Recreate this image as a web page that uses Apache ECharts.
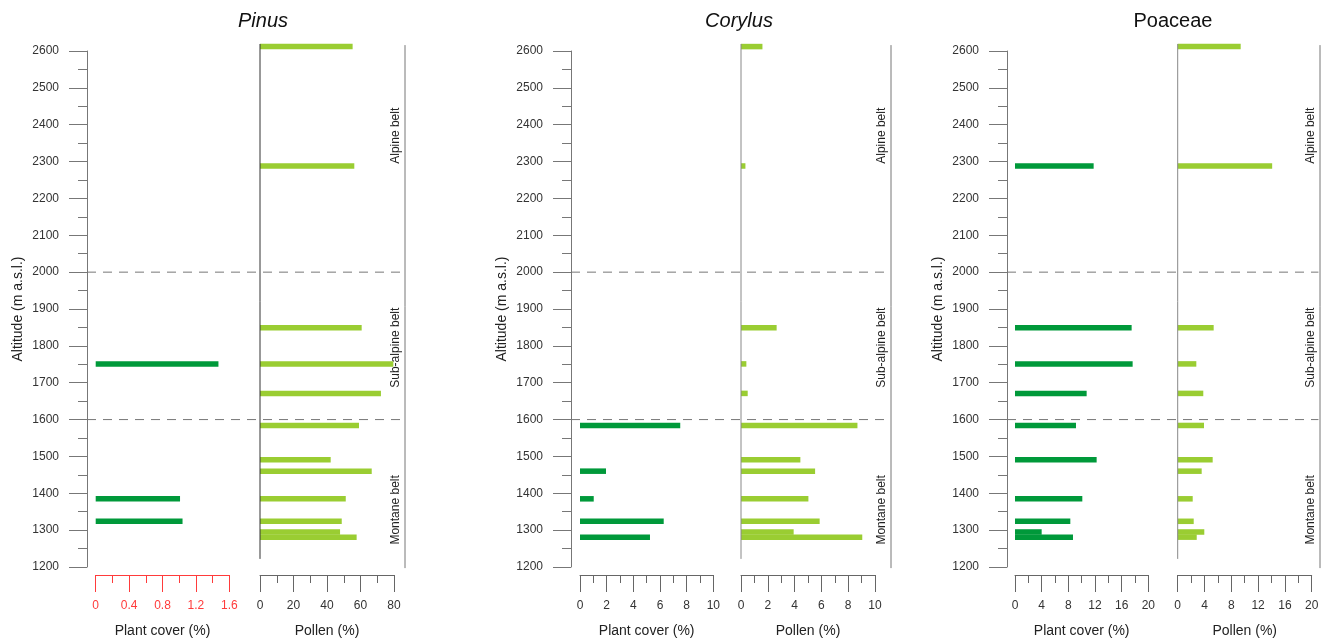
<!DOCTYPE html>
<html><head><meta charset="utf-8">
<script src="https://cdn.jsdelivr.net/npm/echarts@6/dist/echarts.min.js"></script>
<style>html,body{margin:0;padding:0;background:#fff}#c{width:1325px;height:644px}</style>
</head><body><div id="c"></div>
<script>
// ---- data ----
const altitudes = [2612, 2288, 1849, 1751, 1671, 1584, 1491, 1460, 1385, 1324, 1295, 1281];
const taxa = ['Pinus', 'Corylus', 'Poaceae'];
const pinusCover = [0, 0, 0, 1.47, 0, 0, 0, 0, 1.01, 1.04, 0, 0];
const pinusPollen = [55.3, 56.3, 60.7, 79.6, 72.2, 59.1, 42.2, 66.7, 51.2, 48.8, 47.8, 57.7];
const corylusCover = [0, 0, 0, 0, 0, 7.52, 0, 1.95, 1.03, 6.28, 0, 5.25];
const corylusPollen = [1.6, 0.33, 2.66, 0.4, 0.5, 8.69, 4.43, 5.53, 5.03, 5.87, 3.93, 9.05];
const poaceaeCover = [0, 11.8, 17.5, 17.65, 10.75, 9.15, 12.25, 0, 10.1, 8.3, 4.0, 8.7];
const poaceaePollen = [9.4, 14.1, 5.37, 2.78, 3.82, 3.93, 5.22, 3.58, 2.24, 2.39, 3.97, 2.84];
const coverMax = [1.6, 10, 20];
const coverInterval = [0.4, 2, 4];
const pollenMax = [80, 10, 20];
const pollenInterval = [20, 2, 4];
const altitudeMin = 1200, altitudeMax = 2600, altitudeInterval = 100;
const beltBoundaries = [2000, 1600];
const beltLabels = ['Alpine belt', 'Sub-alpine belt', 'Montane belt'];
const beltLabelAlt = [2370, 1795, 1355];
const zeroLineAlt = [2619, 1222];
const beltLineAlt = [2616, 1197];
const barThickness = 15; // metres

const coverData = [pinusCover, corylusCover, poaceaeCover];
const pollenData = [pinusPollen, corylusPollen, poaceaePollen];

// ---- layout / style ----
const FONT = '"Liberation Sans", Arial, sans-serif';
const TOP = 51, BOTTOM = 644 - 567;
const layout = [
  {axisX: 87, beltX: 405, cover: [95.7, 229.3], pollen: [260, 394], titleX: 263, italic: true, zeroColor: '#333', coverColor: '#ff3b3b', coverLabel: '#ff3b3b'},
  {axisX: 571, beltX: 891, cover: [580, 713.3], pollen: [741, 875], titleX: 739, italic: true, zeroColor: '#888', coverColor: '#666', coverLabel: '#333'},
  {axisX: 1007, beltX: 1320, cover: [1015, 1148.3], pollen: [1177.7, 1311.7], titleX: 1173, italic: false, zeroColor: '#888', coverColor: '#666', coverLabel: '#333'}
];
const DARK = '#00993a', LIGHT = '#9acd32';

const grid = [], xAxis = [], yAxis = [], series = [], graphic = [];

function barRender(color) {
  return function (params, api) {
    const v = api.value(0), a = api.value(1);
    const p0 = api.coord([0, a]);
    const p1 = api.coord([v, a]);
    const h = api.size([0, barThickness])[1];
    return {type: 'rect', shape: {x: p0[0], y: p0[1] - h / 2, width: p1[0] - p0[0], height: h}, style: {fill: color}};
  };
}

function bottomAxis(gi, max, interval, name, lineColor, labelColor) {
  return {
    gridIndex: gi, type: 'value', min: 0, max: max, interval: interval, position: 'bottom', offset: 8,
    axisLine: {show: true, lineStyle: {color: lineColor, width: 1}},
    axisTick: {show: true, length: 17, lineStyle: {color: lineColor}},
    minorTick: {show: true, splitNumber: 2, length: 8, lineStyle: {color: lineColor}},
    splitLine: {show: false}, minorSplitLine: {show: false},
    axisLabel: {margin: 25, fontSize: 12, color: labelColor, fontFamily: FONT, formatter: v => String(+v.toFixed(2))},
    name: name, nameLocation: 'middle', nameGap: 49,
    nameTextStyle: {fontSize: 14, color: '#222', fontFamily: FONT}
  };
}

layout.forEach((L, i) => {
  const gP = 3 * i, gC = 3 * i + 1, gPo = 3 * i + 2;
  grid.push({left: L.axisX, width: L.beltX - L.axisX, top: TOP, bottom: BOTTOM});
  grid.push({left: L.cover[0], width: L.cover[1] - L.cover[0], top: TOP, bottom: BOTTOM});
  grid.push({left: L.pollen[0], width: L.pollen[1] - L.pollen[0], top: TOP, bottom: BOTTOM});

  xAxis.push({gridIndex: gP, type: 'value', min: 0, max: 1, show: false});
  xAxis.push(bottomAxis(gC, coverMax[i], coverInterval[i], 'Plant cover (%)', L.coverColor, L.coverLabel));
  xAxis.push(bottomAxis(gPo, pollenMax[i], pollenInterval[i], 'Pollen (%)', '#666', '#333'));

  yAxis.push({
    gridIndex: gP, type: 'value', min: altitudeMin, max: altitudeMax, interval: altitudeInterval, position: 'left',
    axisLine: {show: true, lineStyle: {color: '#777'}},
    axisTick: {show: true, length: 18, lineStyle: {color: '#777'}},
    minorTick: {show: true, splitNumber: 2, length: 9, lineStyle: {color: '#777'}},
    splitLine: {show: false}, minorSplitLine: {show: false},
    axisLabel: {margin: 28, fontSize: 12, color: '#333', fontFamily: FONT, formatter: v => String(v)},
    name: 'Altitude (m a.s.l.)', nameLocation: 'middle', nameGap: 62,
    nameTextStyle: {fontSize: 14, color: '#222', fontFamily: FONT}
  });
  yAxis.push({gridIndex: gC, type: 'value', min: altitudeMin, max: altitudeMax, show: false});
  yAxis.push({gridIndex: gPo, type: 'value', min: altitudeMin, max: altitudeMax, show: false});

  // dashed belt boundaries
  series.push({
    type: 'custom', xAxisIndex: gP, yAxisIndex: gP, silent: true,
    data: beltBoundaries.map(a => [0, a]),
    renderItem: (params, api) => {
      const a = api.value(1);
      const p0 = api.coord([0, a]), p1 = api.coord([0.995, a]);
      return {type: 'line', shape: {x1: p0[0], y1: p0[1], x2: p1[0], y2: p1[1]},
        style: {stroke: '#777', lineWidth: 1, lineDash: [9, 7]}};
    }
  });
  // belt line at right
  series.push({
    type: 'custom', xAxisIndex: gP, yAxisIndex: gP, silent: true,
    data: [[1, beltLineAlt[0], beltLineAlt[1]]],
    renderItem: (params, api) => {
      const p0 = api.coord([1, api.value(1)]), p1 = api.coord([1, api.value(2)]);
      return {type: 'line', shape: {x1: p0[0], y1: p0[1], x2: p1[0], y2: p1[1]},
        style: {stroke: '#777', lineWidth: 1}};
    }
  });
  // belt labels
  series.push({
    type: 'custom', xAxisIndex: gP, yAxisIndex: gP, silent: true,
    data: beltLabelAlt.map((a, k) => [1, a, k]),
    renderItem: (params, api) => {
      const p = api.coord([1, api.value(1)]);
      return {type: 'text', x: p[0] - 9, y: p[1], rotation: Math.PI / 2,
        style: {text: beltLabels[api.value(2)], fill: '#222', font: '12px ' + FONT, align: 'center', verticalAlign: 'middle'}};
    }
  });
  // plant cover bars
  series.push({
    type: 'custom', xAxisIndex: gC, yAxisIndex: gC, silent: true,
    data: altitudes.map((a, k) => [coverData[i][k], a]).filter(d => d[0] > 0),
    renderItem: barRender(DARK)
  });
  // pollen bars
  series.push({
    type: 'custom', xAxisIndex: gPo, yAxisIndex: gPo, silent: true,
    data: altitudes.map((a, k) => [pollenData[i][k], a]).filter(d => d[0] > 0),
    renderItem: barRender(LIGHT)
  });
  // pollen zero line
  series.push({
    type: 'custom', xAxisIndex: gPo, yAxisIndex: gPo, silent: true, z: 5,
    data: [[0, zeroLineAlt[0], zeroLineAlt[1]]],
    renderItem: (params, api) => {
      const p0 = api.coord([0, api.value(1)]), p1 = api.coord([0, api.value(2)]);
      return {type: 'line', shape: {x1: p0[0], y1: p0[1], x2: p1[0], y2: p1[1]},
        style: {stroke: L.zeroColor, lineWidth: 1}};
    }
  });

  graphic.push({
    type: 'text', x: L.titleX, y: 21,
    style: {text: taxa[i], font: (L.italic ? 'italic ' : '') + '20px ' + FONT, fill: '#111', align: 'center', verticalAlign: 'middle'}
  });
});

const chart = echarts.init(document.getElementById('c'), null, {renderer: 'canvas'});
chart.setOption({
  animation: false,
  backgroundColor: '#fff',
  textStyle: {fontFamily: FONT},
  grid: grid, xAxis: xAxis, yAxis: yAxis, series: series, graphic: graphic
});
</script></body></html>
